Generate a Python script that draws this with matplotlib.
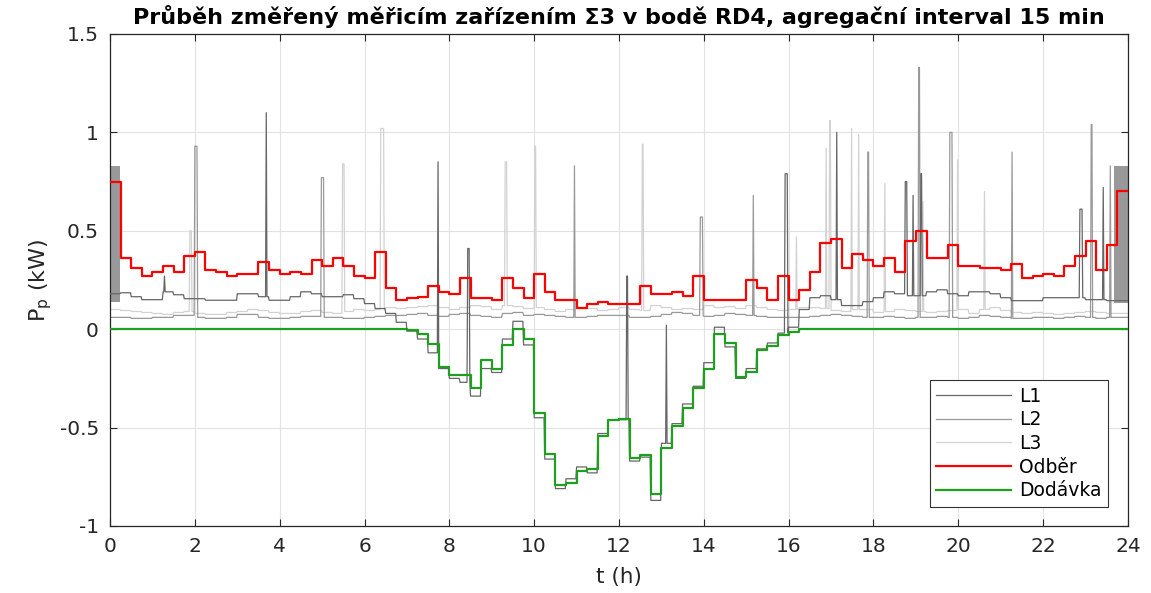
import numpy as np
import matplotlib
matplotlib.use("Agg")
import matplotlib.pyplot as plt

# 15min hodnoty (96 intervalu)
odber = [0.75, 0.36, 0.31, 0.27, 0.29, 0.32, 0.29, 0.37, 0.39, 0.30, 0.29, 0.27,
         0.28, 0.28, 0.34, 0.30, 0.28, 0.29, 0.28, 0.35, 0.32, 0.36, 0.32, 0.27,
         0.26, 0.39, 0.21, 0.15, 0.16, 0.165, 0.22, 0.19, 0.18, 0.26, 0.16, 0.16,
         0.15, 0.26, 0.21, 0.16, 0.28, 0.19, 0.15, 0.15, 0.11, 0.13, 0.14, 0.13,
         0.13, 0.13, 0.22, 0.18, 0.18, 0.19, 0.17, 0.27, 0.15, 0.15, 0.15, 0.15,
         0.25, 0.21, 0.15, 0.27, 0.15, 0.20, 0.29, 0.44, 0.46, 0.31, 0.38, 0.35,
         0.32, 0.36, 0.29, 0.45, 0.50, 0.36, 0.36, 0.43, 0.32, 0.32, 0.31, 0.31,
         0.30, 0.33, 0.26, 0.27, 0.28, 0.27, 0.32, 0.37, 0.45, 0.30, 0.43, 0.70]

dodavka = [0.0] * 28 + [
    -0.005, -0.025, -0.075, -0.19, -0.235, -0.235, -0.30, -0.157, -0.20, -0.078,
    0.0, -0.05, -0.424, -0.636, -0.793, -0.78, -0.72, -0.71, -0.542, -0.463,
    -0.454, -0.654, -0.64, -0.839, -0.603, -0.49, -0.398, -0.297, -0.20, -0.025,
    -0.07, -0.242, -0.22, -0.107, -0.085, -0.03, -0.015] + [0.0] * 31

# zakladni uroven fazi (15 min)
l1_base = [0.18, 0.185, 0.165, 0.15, 0.15, 0.19, 0.175, 0.155, 0.155, 0.147, 0.147, 0.147,
           0.18, 0.18, 0.165, 0.147, 0.147, 0.165, 0.19, 0.18, 0.165, 0.165, 0.175, 0.155,
           0.13, 0.105, 0.08, 0.035, -0.01, -0.05, -0.12, -0.2, -0.25, -0.27, -0.34, -0.2,
           -0.22, -0.05, 0.04, -0.08, -0.45, -0.66, -0.81, -0.76, -0.70, -0.73, -0.53, -0.46,
           -0.46, -0.67, -0.65, -0.87, -0.58, -0.48, -0.38, -0.29, -0.17, 0.01, -0.09, -0.25,
           -0.2, -0.1, -0.07, -0.02, 0.01, 0.1, 0.16, 0.17, 0.15, 0.12, 0.12, 0.14,
           0.16, 0.19, 0.18, 0.17, 0.17, 0.19, 0.2, 0.18, 0.17, 0.19, 0.19, 0.18,
           0.16, 0.145, 0.145, 0.145, 0.16, 0.16, 0.16, 0.16, 0.15, 0.15, 0.145, 0.145]
l2_base = [0.06, 0.06, 0.055, 0.055, 0.06, 0.06, 0.07, 0.07, 0.06, 0.055, 0.055, 0.06,
           0.075, 0.075, 0.06, 0.055, 0.055, 0.06, 0.065, 0.065, 0.06, 0.06, 0.055, 0.055,
           0.06, 0.065, 0.07, 0.07, 0.075, 0.08, 0.07, 0.065, 0.075, 0.08, 0.07, 0.065,
           0.06, 0.08, 0.085, 0.07, 0.075, 0.07, 0.065, 0.06, 0.06, 0.065, 0.07, 0.07,
           0.07, 0.06, 0.06, 0.065, 0.075, 0.085, 0.08, 0.07, 0.065, 0.07, 0.08, 0.075,
           0.07, 0.065, 0.06, 0.06, 0.06, 0.06, 0.065, 0.07, 0.075, 0.07, 0.065, 0.06,
           0.06, 0.065, 0.06, 0.055, 0.06, 0.06, 0.065, 0.06, 0.055, 0.06, 0.07, 0.065,
           0.06, 0.055, 0.055, 0.06, 0.06, 0.055, 0.06, 0.065, 0.06, 0.055, 0.06, 0.06]
l3_base = [0.1, 0.095, 0.09, 0.085, 0.08, 0.075, 0.085, 0.09, 0.08, 0.075, 0.075, 0.085,
           0.09, 0.1, 0.095, 0.085, 0.08, 0.08, 0.09, 0.095, 0.085, 0.08, 0.09, 0.1,
           0.095, 0.1, 0.11, 0.105, 0.11, 0.115, 0.12, 0.11, 0.1, 0.11, 0.12, 0.115,
           0.1, 0.12, 0.115, 0.105, 0.11, 0.1, 0.09, 0.1, 0.11, 0.105, 0.095, 0.1,
           0.11, 0.1, 0.095, 0.12, 0.11, 0.1, 0.105, 0.1, 0.12, 0.11, 0.115, 0.105,
           0.12, 0.11, 0.1, 0.095, 0.1, 0.11, 0.11, 0.105, 0.095, 0.09, 0.1, 0.1,
           0.085, 0.09, 0.1, 0.095, 0.09, 0.085, 0.09, 0.095, 0.1, 0.08, 0.1, 0.11,
           0.095, 0.085, 0.08, 0.085, 0.08, 0.075, 0.08, 0.085, 0.09, 0.085, 0.08, 0.08]

# spicky: cas (h), vrchol (kW), delka (min)
l1_spike_t = [1.28, 3.68, 7.73, 8.43, 12.19, 13.11, 15.92, 17.14, 18.75, 18.93, 19.11, 22.86, 23.41]
l1_spike_p = [0.27, 1.10, 0.85, 0.41, 0.27, 0.02, 0.79, 1.00, 0.75, 0.68, 0.79, 0.61, 0.72]
l1_spike_w = [1, 1, 1, 3, 2, 1, 4, 1, 3, 1, 2, 4, 1]

l2_spike_t = [2.0, 4.98, 10.95, 13.92, 15.17, 17.87, 19.06, 19.80, 21.27, 23.13, 23.58]
l2_spike_p = [0.93, 0.77, 0.83, 0.57, 0.68, 0.90, 1.33, 1.00, 0.90, 1.04, 0.83]
l2_spike_w = [4, 4, 1, 4, 1, 2, 2, 4, 1, 2, 1]

l3_spike_t = [1.88, 5.48, 6.38, 9.32, 10.02, 12.55, 16.18, 16.89, 16.96, 17.49, 17.65,
              18.27, 19.17, 19.99, 20.61]
l3_spike_p = [0.50, 0.84, 1.02, 0.85, 0.93, 0.94, 0.47, 0.92, 1.06, 1.02, 0.99,
              0.74, 0.65, 0.86, 0.70]
l3_spike_w = [3, 3, 5, 3, 2, 2, 1, 1, 2, 1, 1, 1, 1, 1, 1]

# husta oscilace L2 na zacatku a konci dne
blok_t0 = [0.0, 23.68]
blok_t1 = [0.23, 24.0]
blok_lo = [0.14, 0.135]
blok_hi = [0.83, 0.83]

c_l1, c_l2, c_l3 = "#666666", "#999999", "#d2d2d2"


def faze(base, st, sp, sw):
    y = np.repeat(np.array(base, dtype=float), 15)
    y = np.append(y, y[-1])
    for t, p, w in zip(st, sp, sw):
        i = int(round(t * 60))
        y[i:i + w] = p
    return y


t_min = np.arange(24 * 60 + 1) / 60.0
edges = np.arange(97) * 0.25

plt.rcParams['font.family'] = ['DejaVu Sans']
plt.rcParams['axes.unicode_minus'] = False

fig = plt.figure(figsize=(11.51, 5.93), dpi=100)
ax = fig.add_axes([0.0956, 0.113, 0.8844, 0.8297])

for t0, t1, lo, hi in zip(blok_t0, blok_t1, blok_lo, blok_hi):
    ax.fill_between([t0, t1], [lo, lo], [hi, hi], color=c_l2, lw=0, zorder=2)

ax.plot(t_min, faze(l1_base, l1_spike_t, l1_spike_p, l1_spike_w), color=c_l1, lw=0.9, label="L1", zorder=3)
ax.plot(t_min, faze(l2_base, l2_spike_t, l2_spike_p, l2_spike_w), color=c_l2, lw=0.9, label="L2", zorder=2)
ax.plot(t_min, faze(l3_base, l3_spike_t, l3_spike_p, l3_spike_w), color=c_l3, lw=0.9, label="L3", zorder=1.5)
ax.step(edges, odber + [odber[-1]], where="post", color="#ff0000", lw=1.6, label="Odběr", zorder=4)
ax.step(edges, dodavka + [dodavka[-1]], where="post", color="#1f9f1f", lw=1.6, label="Dodávka", zorder=4)

ax.set_xlim(0, 24)
ax.set_ylim(-1, 1.5)
ax.set_xticks(np.arange(0, 25, 2))
ax.set_yticks([-1, -0.5, 0, 0.5, 1, 1.5])
ax.set_yticklabels(["-1", "-0.5", "0", "0.5", "1", "1.5"])
ax.grid(True, color="#e2e2e2", lw=0.8)
ax.set_axisbelow(True)
ax.tick_params(direction="in", top=True, right=True, labelsize=14.5, colors="#262626",
               length=5, pad=8)
for s in ax.spines.values():
    s.set_color("#262626")
    s.set_linewidth(0.9)

ax.set_title("Průběh změřený měřicím zařízením Σ3 v bodě RD4, agregační interval 15 min",
             fontsize=16, fontweight="bold", pad=7)
ax.set_xlabel("t (h)", fontsize=15.5, color="#262626", labelpad=8)
ax.set_ylabel(r"P$_\mathregular{p}$ (kW)", fontsize=16, color="#262626", labelpad=4)

leg = ax.legend(loc="lower right", bbox_to_anchor=(0.9804, 0.0386), borderaxespad=0,
                fontsize=13.5, fancybox=False, framealpha=1, edgecolor="#333333",
                handlelength=4.0, labelspacing=0.25, borderpad=0.35, handletextpad=0.4)
leg.get_frame().set_linewidth(0.8)

fig.savefig("out.png", dpi=100)
